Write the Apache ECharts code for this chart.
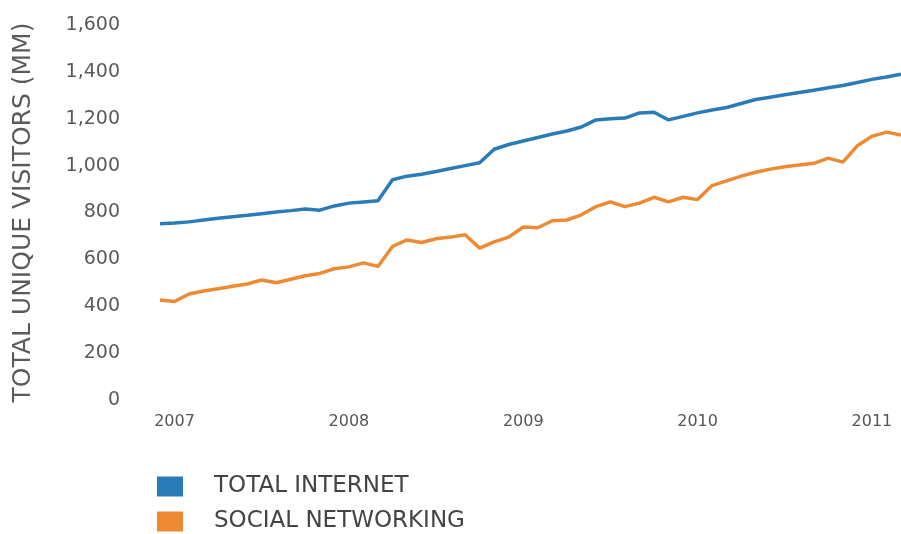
<!DOCTYPE html>
<html>
<head>
    <meta charset="utf-8">
    <title>Unique visitors</title>
    <script src="https://cdn.jsdelivr.net/npm/echarts@6/dist/echarts.min.js"></script>
</head>
<body style="margin:0;background:#fff;">
    <div id="main" style="width:901px;height:534px;"></div>
    <script type="text/javascript">

// monthly points, Dec 2006 .. Mar 2011
var months = [];
for (var y = 2006; y <= 2011; y++) {
    for (var m = 1; m <= 12; m++) {
        if ((y === 2006 && m < 12) || (y === 2011 && m > 3)) continue;
        months.push(y + '-' + (m < 10 ? '0' + m : m));
    }
}

var totalInternet = [
    752, 755, 760, 768, 775, 782, 788, 795, 802, 808, 815, 810,
    828, 840, 845, 850, 940, 955, 963, 975, 988, 1000, 1012, 1070,
    1090, 1105, 1120, 1135, 1148, 1165, 1195, 1200, 1203, 1225, 1228, 1195,
    1210, 1225, 1237, 1248, 1265, 1282, 1292, 1302, 1312, 1322, 1332, 1342,
    1355, 1368, 1378, 1390
];

var socialNetworking = [
    427, 420, 452, 465, 475, 485, 495, 512, 500, 515, 530, 540,
    560, 568, 585, 570, 655, 683, 672, 688, 695, 705, 648, 675,
    695, 738, 735, 765, 768, 790, 825, 845, 825, 840, 865, 845,
    865, 855, 915, 935, 955, 972, 985, 995, 1003, 1010, 1032, 1015,
    1085, 1125, 1143, 1130
];

var yTicks = [0, 200, 400, 600, 800, 1000, 1200, 1400, 1600];

var myChart = echarts.init(document.getElementById('main'));

var font = '"DejaVu Sans", "Liberation Sans", Arial, sans-serif';

// one legend block per row, stacked like the original
var legendRow = function (name, top) {
    return {
        left: 157,
        top: top,
        padding: 0,
        icon: 'rect',
        itemWidth: 26,
        itemHeight: 20,
        textStyle: {color: '#444', fontSize: 23, fontFamily: font, padding: [0, 0, 0, 26]},
        data: [name]
    };
};

var option = {
    backgroundColor: '#fff',
    animation: false,
    textStyle: {fontFamily: font},
    grid: {left: 160, right: 0, top: 25, bottom: 134},
    legend: [
        legendRow('TOTAL INTERNET', 475),
        legendRow('SOCIAL NETWORKING', 510)
    ],
    xAxis: {
        type: 'category',
        data: months,
        boundaryGap: false,
        axisLine: {show: false},
        axisTick: {show: false},
        axisLabel: {
            color: '#555',
            fontSize: 16,
            fontFamily: font,
            margin: 14,
            interval: function (idx, val) { return val.slice(5) === '01'; },
            formatter: function (val) { return val.slice(0, 4); }
        }
    },
    yAxis: {
        type: 'value',
        min: yTicks[0],
        max: yTicks[yTicks.length - 1],
        interval: 200,
        name: 'TOTAL UNIQUE VISITORS (MM)',
        nameLocation: 'middle',
        nameGap: 124,
        nameTextStyle: {color: '#5a5a5a', fontSize: 25, fontFamily: font},
        splitLine: {show: false},
        axisLine: {show: false},
        axisTick: {show: false},
        axisLabel: {
            color: '#5a5a5a',
            fontSize: 19,
            fontFamily: font,
            margin: 40,
            formatter: function (v) { return v.toLocaleString('en-US'); }
        }
    },
    series: [{
        name: 'TOTAL INTERNET',
        type: 'line',
        data: totalInternet,
        showSymbol: false,
        color: '#2a7cb8',
        lineStyle: {width: 3.5, color: '#2a7cb8'}
    }, {
        name: 'SOCIAL NETWORKING',
        type: 'line',
        data: socialNetworking,
        showSymbol: false,
        color: '#ee8a33',
        lineStyle: {width: 3.5, color: '#ee8a33'}
    }]
};

myChart.setOption(option);
    </script>
</body>
</html>
